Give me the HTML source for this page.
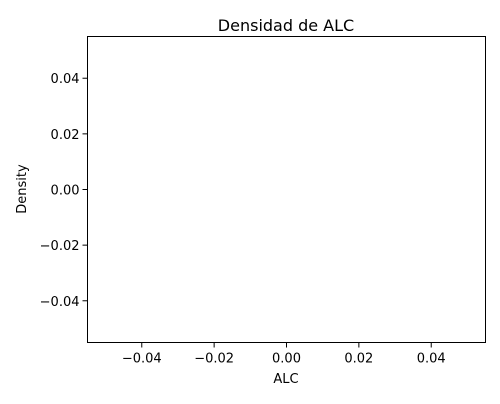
<!DOCTYPE html>
<html><head><meta charset="utf-8"><style>
body{margin:0;background:#fff;width:500px;height:400px;overflow:hidden;font-family:"DejaVu Sans","Liberation Sans",sans-serif}
</style></head><body>
<svg id="chart" width="500" height="400" font-family="DejaVu Sans, Liberation Sans, sans-serif">
<text x="286" y="31" text-anchor="middle" font-size="16">Densidad de ALC</text>
<rect x="87.5" y="36.5" width="398" height="306" fill="none" stroke="#000" stroke-width="1"/>
<g id="xt"></g><g id="yt"></g>
<text x="286" y="383" text-anchor="middle" font-size="13">ALC</text>
<text transform="translate(26,189) rotate(-90)" text-anchor="middle" font-size="13">Density</text>
</svg>
<script>
const xTicks=[-0.04,-0.02,0,0.02,0.04];
const yTicks=[-0.04,-0.02,0,0.02,0.04];
const xDomain=[-0.055,0.055];
const yDomain=[-0.055,0.055];
const L=87.5,R=485.5,T=36.5,B=342.5;
const sx=v=>L+(v-xDomain[0])/(xDomain[1]-xDomain[0])*(R-L);
const sy=v=>B-(v-yDomain[0])/(yDomain[1]-yDomain[0])*(B-T);
const ns="http://www.w3.org/2000/svg";
const fmt=v=>(v<0?"\u2212":"")+Math.abs(v).toFixed(2);
const xt=document.getElementById('xt'),yt=document.getElementById('yt');
xTicks.forEach(v=>{
 const x=sx(v);
 const l=document.createElementNS(ns,'line');
 
 
 l.setAttribute('x1',x);l.setAttribute('x2',x);l.setAttribute('y1',B);l.setAttribute('y2',B+5);l.setAttribute('stroke','#000');
 xt.appendChild(l);
 const t=document.createElementNS(ns,'text');
 
 
 t.setAttribute('x',x);t.setAttribute('y',B+20);t.setAttribute('text-anchor','middle');t.setAttribute('font-size','13');
 t.textContent=fmt(v);xt.appendChild(t);
});
yTicks.forEach(v=>{
 const y=sy(v);
 const l=document.createElementNS(ns,'line');
 
 
 l.setAttribute('x1',L-5);l.setAttribute('x2',L);l.setAttribute('y1',y);l.setAttribute('y2',y);l.setAttribute('stroke','#000');
 yt.appendChild(l);
 const t=document.createElementNS(ns,'text');
 
 
 t.setAttribute('x',L-8);t.setAttribute('y',y+5);t.setAttribute('text-anchor','end');t.setAttribute('font-size','13');
 t.textContent=fmt(v);yt.appendChild(t);
});
</script>
</body></html>
